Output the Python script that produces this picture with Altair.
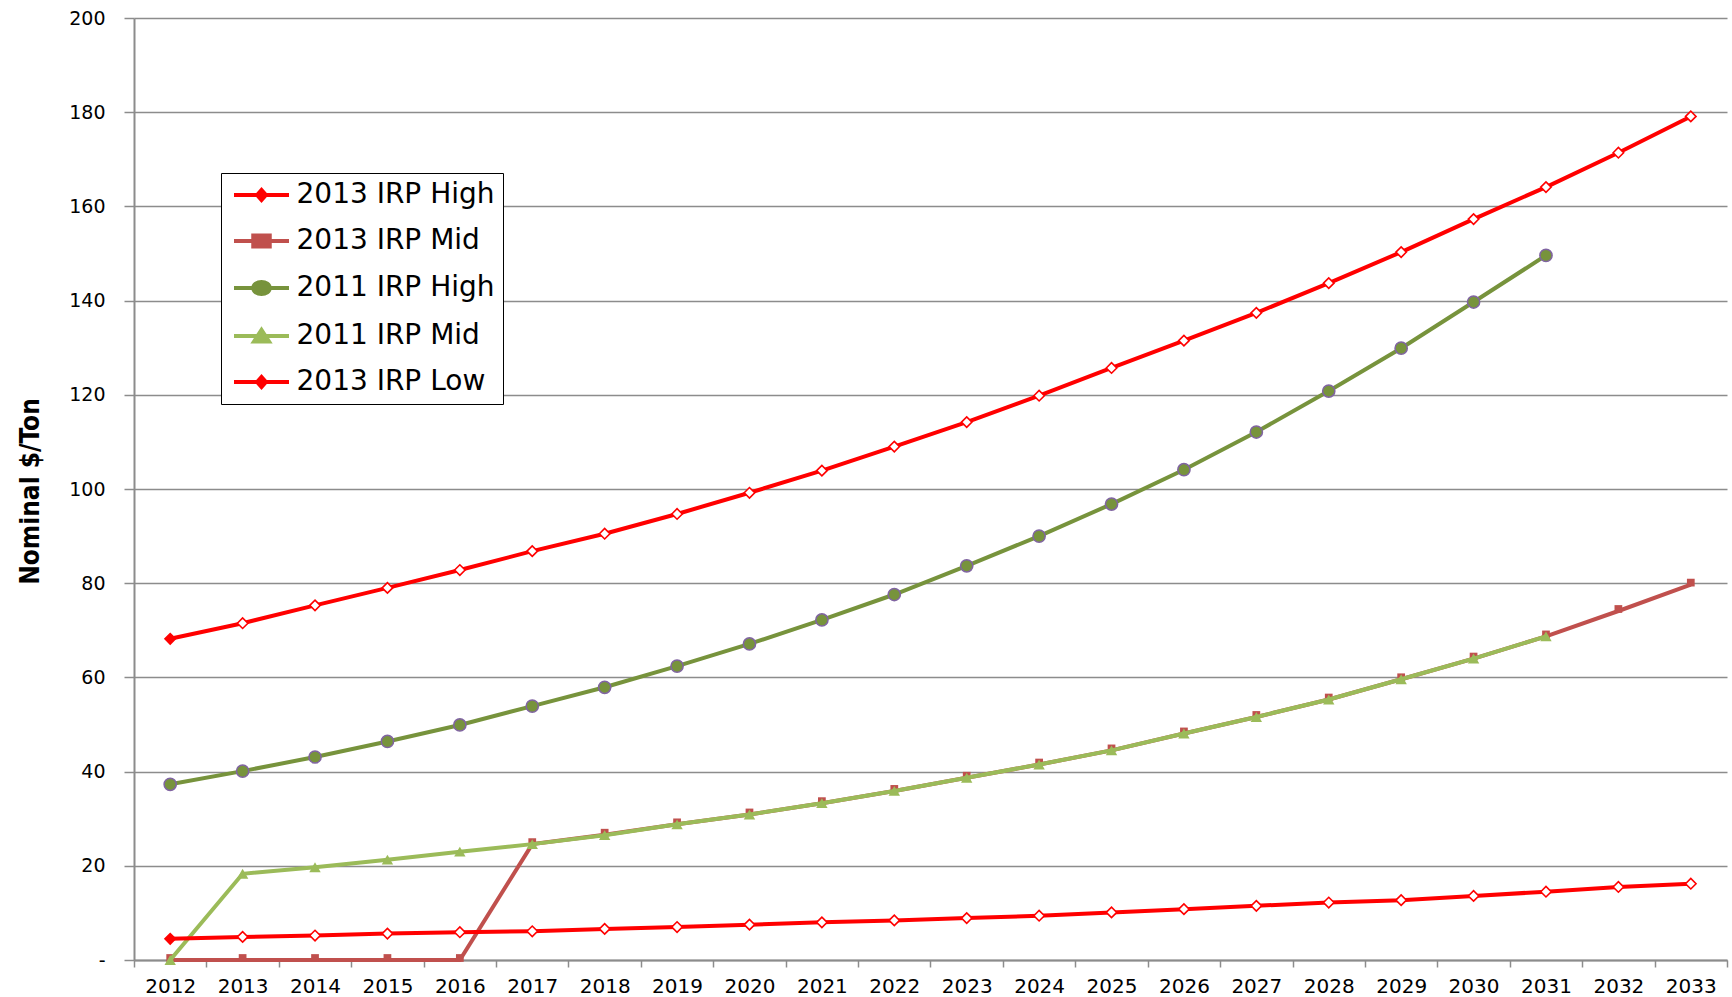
import altair as alt
import pandas as pd

years = [str(y) for y in range(2012, 2034)]

series_names = ["2013 IRP High", "2013 IRP Mid", "2011 IRP High", "2011 IRP Mid", "2013 IRP Low"]

irp2013_high = [68.2, 71.5, 75.3, 79.0, 82.8, 86.8, 90.5, 94.7, 99.2, 103.9, 109.0,
                114.2, 119.8, 125.7, 131.5, 137.4, 143.7, 150.3, 157.3, 164.1, 171.4, 179.1]
irp2013_mid = [0, 0, 0, 0, 0, 24.6, 26.6, 28.8, 30.9, 33.3, 35.9,
               38.7, 41.5, 44.5, 48.1, 51.6, 55.3, 59.6, 64.0, 68.7, 74.1, 79.7]
irp2011_high = [37.3, 40.1, 43.1, 46.4, 49.9, 53.9, 57.9, 62.4, 67.1, 72.2, 77.6,
                83.7, 90.0, 96.8, 104.1, 112.1, 120.8, 129.9, 139.7, 149.6, None, None]
irp2011_mid = [0, 18.3, 19.7, 21.3, 23.0, 24.6, 26.5, 28.8, 30.9, 33.3, 35.9,
               38.7, 41.5, 44.5, 48.1, 51.6, 55.3, 59.6, 64.0, 68.7, None, None]
irp2013_low = [4.5, 4.9, 5.2, 5.6, 5.9, 6.1, 6.6, 7.0, 7.5, 8.0, 8.4,
               8.9, 9.4, 10.1, 10.8, 11.5, 12.2, 12.7, 13.6, 14.5, 15.5, 16.2]

y_ticks = list(range(0, 201, 20))

series_values = [irp2013_high, irp2013_mid, irp2011_high, irp2011_mid, irp2013_low]

rows = []
for name, vals in zip(series_names, series_values):
    for yr, v in zip(years, vals):
        if v is not None:
            rows.append({"year": yr, "series": name, "value": v})
df = pd.DataFrame(rows)

RED = "#FF0000"
MIDRED = "#C0504D"
OLIVE = "#77933C"
PURPLE = "#8064A2"
LGREEN = "#9BBB59"
line_colors = [RED, MIDRED, OLIVE, LGREEN, RED]

GRID = "#8C8C8C"

X = alt.X("year:O", sort=years,
          scale=alt.Scale(domain=years, paddingInner=0, paddingOuter=0),
          axis=alt.Axis(title=None, labelAngle=0, tickBand="extent", tickSize=7,
                        tickColor=GRID, tickWidth=1.5, domainColor=GRID, domainWidth=2,
                        labelFont="DejaVu Sans", labelFontSize=20, labelColor="black",
                        labelPadding=9, grid=False))
Y = alt.Y("value:Q",
          scale=alt.Scale(domain=[0, 200], nice=False, zero=True),
          axis=alt.Axis(title="Nominal $/Ton", values=y_ticks,
                        labelExpr="datum.value == 0 ? '-' : datum.label",
                        grid=True, gridColor=GRID, gridWidth=1.3,
                        tickSize=10, tickColor=GRID, tickWidth=1.5,
                        domainColor=GRID, domainWidth=2,
                        labelFont="DejaVu Sans", labelFontSize=19, labelColor="black",
                        labelPadding=19,
                        titleFont="DejaVu Sans Condensed, Liberation Sans Narrow, Roboto, sans-serif",
                        titleFontSize=26,
                        titleFontWeight="bold", titleColor="black",
                        titleAngle=270, titleX=-104, titleY=473,
                        titleAlign="center", titleBaseline="middle"))

layers = []
for i, name in enumerate(series_names):
    base = alt.Chart(df).transform_filter(alt.datum.series == name)
    layers.append(base.mark_line(color=line_colors[i], strokeWidth=4).encode(x=X, y=Y))
    if name in ("2013 IRP High", "2013 IRP Low"):
        pts = base.mark_point(shape="diamond", size=110, filled=True, stroke=RED,
                              strokeWidth=1.6, opacity=1).encode(
            x=X, y=Y,
            fill=alt.condition(alt.datum.year == "2012", alt.value(RED), alt.value("white")))
    elif name == "2013 IRP Mid":
        pts = base.mark_point(shape="square", size=60, filled=True, color=MIDRED,
                              opacity=1, yOffset=-2).encode(x=X, y=Y)
    elif name == "2011 IRP High":
        pts = base.mark_point(shape="circle", size=150, filled=True, fill=OLIVE,
                              stroke=PURPLE, strokeWidth=1.5, opacity=1).encode(x=X, y=Y)
    else:
        pts = base.mark_point(shape="triangle-up", size=130, filled=True, color=LGREEN,
                              opacity=1).encode(x=X, y=Y)
    layers.append(pts)

LINE = "M-2.5,0H2.5"
legend_paths = [
    LINE + "M-0.4,0L0,-0.45L0.4,0L0,0.45Z",
    LINE + "M-0.75,-0.5H0.75V0.5H-0.75Z",
    LINE + "M-0.75,0A0.75,0.55 0 1,0 0.75,0A0.75,0.55 0 1,0 -0.75,0Z",
    LINE + "M-0.68,0.5L0,-0.55L0.68,0.5Z",
    LINE + "M-0.4,0L0,-0.45L0.4,0L0,0.45Z",
]
legend_fill = [RED, MIDRED, OLIVE, LGREEN, RED]
legend_stroke = [RED, MIDRED, OLIVE, LGREEN, RED]

leg = dict(title=None, orient="none", legendX=87, legendY=155,
           padding=8, rowPadding=18, symbolOffset=18.5, labelOffset=21,
           symbolSize=484, symbolStrokeWidth=4, symbolOpacity=1,
           labelFont="DejaVu Sans", labelFontSize=28, labelColor="black",
           labelLimit=500,
           strokeColor="black", fillColor="white")

legend_layer = alt.Chart(df).transform_filter("false").mark_point(filled=True).encode(
    x=X, y=Y,
    shape=alt.Shape("series:N", scale=alt.Scale(domain=series_names, range=legend_paths),
                    legend=alt.Legend(**leg)),
    fill=alt.Fill("series:N", scale=alt.Scale(domain=series_names, range=legend_fill),
                  legend=alt.Legend(**leg)),
    stroke=alt.Stroke("series:N", scale=alt.Scale(domain=series_names, range=legend_stroke),
                      legend=alt.Legend(**leg)),
)

chart = alt.layer(*layers, legend_layer).properties(
    width=1593, height=942,
    autosize=alt.AutoSizeParams(type="none"),
    padding={"left": 134, "top": 18, "right": 5, "bottom": 37},
    background="white",
).configure_view(stroke=None)

chart.save("out.html", embed_options={"renderer": "svg", "actions": False})
